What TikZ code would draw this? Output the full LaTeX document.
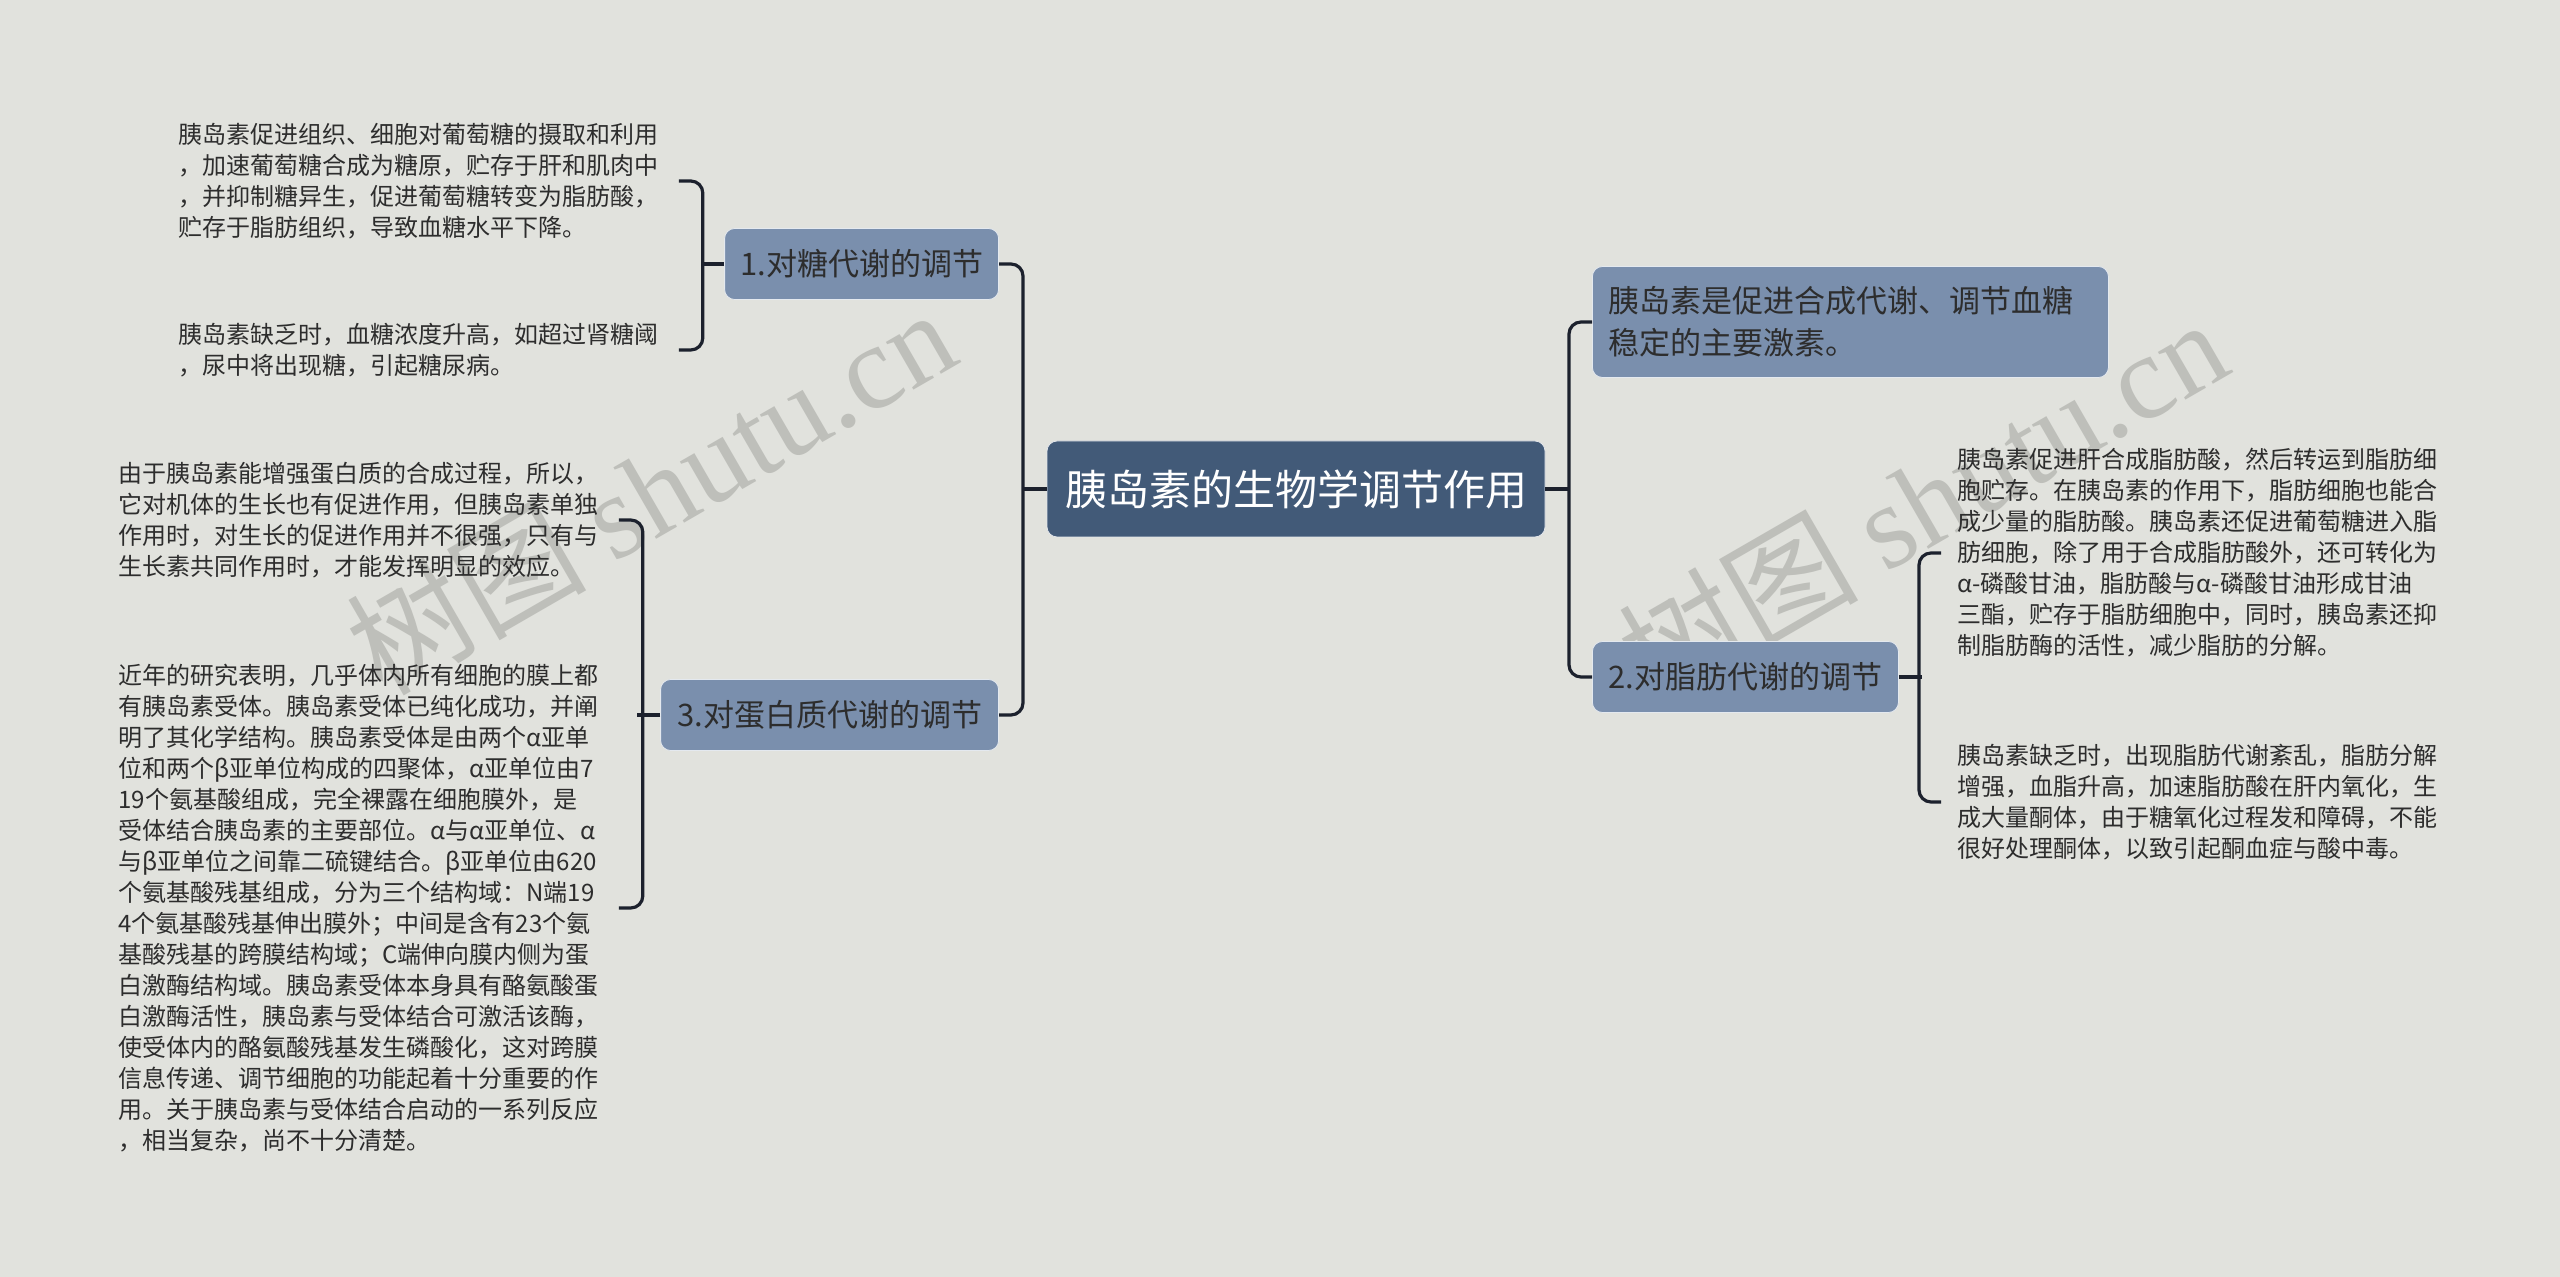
\documentclass[tikz,border=0pt]{standalone}
\usepackage{fontspec}
\setmainfont{Noto Sans CJK SC}
\newfontfamily\wmserif{Liberation Serif}
\usepackage{xcolor}
\usepackage{tikz}
\usetikzlibrary{positioning}

\definecolor{bgc}{RGB}{225,226,221}
\definecolor{rootc}{RGB}{66,90,120}
\definecolor{branchc}{RGB}{122,143,173}
\definecolor{linec}{RGB}{28,33,45}
\definecolor{txtc}{RGB}{45,45,45}
\definecolor{wmc}{RGB}{184,185,180}

\tikzset{
  rootbox/.style={fill=rootc, draw=white!85!rootc, line width=0.4pt, rounded corners=5pt,
    text=white, font=\fontsize{21}{25}\selectfont, minimum width=249pt, minimum height=48pt},
  branchbox/.style={fill=branchc, draw=white!80!branchc, line width=0.4pt, rounded corners=5pt,
    text=txtc, font=\fontsize{15.5}{21}\selectfont, minimum height=35.5pt},
  leafbox/.style={text=txtc, font=\fontsize{12}{15.5}\selectfont, text width=242pt,
    align=left, inner xsep=8pt, inner ysep=0pt},
  link/.style={draw=linec, line width=1.6pt, rounded corners=6pt},
  wmark/.style={text=wmc, opacity=0.85, rotate=30, font=\fontsize{60}{60}\selectfont}
}

\begin{document}
\begin{tikzpicture}[x=0.5pt,y=-0.5pt]
	\fill[bgc] (0,0) rectangle (2560,1277);
	\useasboundingbox (0,0) rectangle (2560,1277);
	% watermark
	\node[wmark] (wm1) at (650,490) {树图 {\wmserif shutu.cn}};
	\node[wmark] (wm2) at (1922,500) {树图 {\wmserif shutu.cn}};
	% main topic and branches
	\node[rootbox] (root) at (1296,489) {胰岛素的生物学调节作用};
	\node[branchbox, anchor=east, minimum width=137pt] (sugar) at (999,264) {1.对糖代谢的调节};
	\node[branchbox, anchor=east, minimum width=169pt] (protein) at (999,715) {3.对蛋白质代谢的调节};
	\node[branchbox, anchor=west, minimum width=258pt, minimum height=55.5pt, text width=242pt,
	  inner xsep=8pt, align=left] (summary) at (1592,322) {胰岛素是促进合成代谢、调节血糖\\稳定的主要激素。};
	\node[branchbox, anchor=west, minimum width=153pt] (fat) at (1592,677) {2.对脂肪代谢的调节};
	% leaves of 1.
	\node[leafbox, anchor=west] (sugarA) at (162,181) {胰岛素促进组织、细胞对葡萄糖的摄取和利用\\
	  ，加速葡萄糖合成为糖原，贮存于肝和肌肉中\\
	  ，并抑制糖异生，促进葡萄糖转变为脂肪酸，\\
	  贮存于脂肪组织，导致血糖水平下降。};
	\node[leafbox, anchor=west] (sugarB) at (162,350) {胰岛素缺乏时，血糖浓度升高，如超过肾糖阈\\
	  ，尿中将出现糖，引起糖尿病。};
	% leaves of 3.
	\node[leafbox, anchor=west] (proteinA) at (102,520) {由于胰岛素能增强蛋白质的合成过程，所以，\\
	  它对机体的生长也有促进作用，但胰岛素单独\\
	  作用时，对生长的促进作用并不很强，只有与\\
	  生长素共同作用时，才能发挥明显的效应。};
	\node[leafbox, anchor=west] (proteinB) at (102,908) {近年的研究表明，几乎体内所有细胞的膜上都\\
	  有胰岛素受体。胰岛素受体已纯化成功，并阐\\
	  明了其化学结构。胰岛素受体是由两个α亚单\\
	  位和两个β亚单位构成的四聚体，α亚单位由7\\
	  19个氨基酸组成，完全裸露在细胞膜外，是\\
	  受体结合胰岛素的主要部位。α与α亚单位、α\\
	  与β亚单位之间靠二硫键结合。β亚单位由620\\
	  个氨基酸残基组成，分为三个结构域：N端19\\
	  4个氨基酸残基伸出膜外；中间是含有23个氨\\
	  基酸残基的跨膜结构域；C端伸向膜内侧为蛋\\
	  白激酶结构域。胰岛素受体本身具有酪氨酸蛋\\
	  白激酶活性，胰岛素与受体结合可激活该酶，\\
	  使受体内的酪氨酸残基发生磷酸化，这对跨膜\\
	  信息传递、调节细胞的功能起着十分重要的作\\
	  用。关于胰岛素与受体结合启动的一系列反应\\
	  ，相当复杂，尚不十分清楚。};
	% leaves of 2.
	\node[leafbox, anchor=west] (fatA) at (1941,553) {胰岛素促进肝合成脂肪酸，然后转运到脂肪细\\
	  胞贮存。在胰岛素的作用下，脂肪细胞也能合\\
	  成少量的脂肪酸。胰岛素还促进葡萄糖进入脂\\
	  肪细胞，除了用于合成脂肪酸外，还可转化为\\
	  α-磷酸甘油，脂肪酸与α-磷酸甘油形成甘油\\
	  三酯，贮存于脂肪细胞中，同时，胰岛素还抑\\
	  制脂肪酶的活性，减少脂肪的分解。};
	\node[leafbox, anchor=west] (fatB) at (1941,802) {胰岛素缺乏时，出现脂肪代谢紊乱，脂肪分解\\
	  增强，血脂升高，加速脂肪酸在肝内氧化，生\\
	  成大量酮体，由于糖氧化过程发和障碍，不能\\
	  很好处理酮体，以致引起酮血症与酸中毒。};
	% connectors
	\draw[link] (root.west) -- ++(-24,0);
	\draw[link] (sugar.east) -- ++(24,0) |- (protein.east);
	\draw[link] (root.east) -- ++(24,0);
	\draw[link] (summary.west) -- ++(-23,0) |- (fat.west);
	\draw[link] (sugar.west) -- ++(-23,0);
	\draw[link] (sugarA.east) -- ++(24,0) |- (sugarB.east);
	\draw[link] (protein.west) -- ++(-23,0);
	\draw[link] (proteinA.east) -- ++(24,0) |- (proteinB.east);
	\draw[link] (fat.east) -- ++(23,0);
	\draw[link] (fatA.west) -- ++(-22,0) |- (fatB.west);
\end{tikzpicture}
\end{document}
